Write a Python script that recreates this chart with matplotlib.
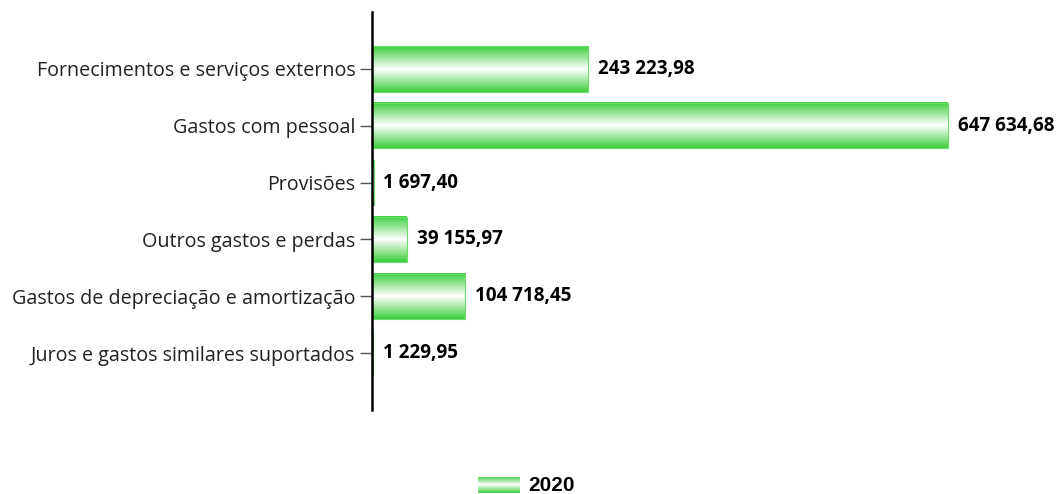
import matplotlib
matplotlib.use("Agg")
import matplotlib.pyplot as plt
import numpy as np
from matplotlib.colors import LinearSegmentedColormap

categories = ["Fornecimentos e serviços externos", "Gastos com pessoal", "Provisões",
              "Outros gastos e perdas", "Gastos de depreciação e amortização",
              "Juros e gastos similares suportados"]
values = [243223.98, 647634.68, 1697.40, 39155.97, 104718.45, 1229.95]
series_name = "2020"

def fmt(v):
    s = f"{v:,.2f}"
    return s.replace(",", " ").replace(".", ",")

plt.rcParams['font.family'] = ['Open Sans', 'DejaVu Sans']
fig = plt.figure(figsize=(10.59, 4.94), dpi=100)
ax = fig.add_axes([372/1059, 1-410/494, (1050-372)/1059, (410-12)/494])

green = "#3ccf3c"
cmap = LinearSegmentedColormap.from_list("g", [green, "#ffffff", green])
grad = np.linspace(0, 1, 256).reshape(-1, 1)

xmax = 647634.68 * (1050 - 372) / 576
h = 0.8
pos = np.arange(1, len(categories) + 1)
for y, v in zip(pos, values):
    ax.imshow(grad, cmap=cmap, aspect='auto', extent=[0, v, y + h/2, y - h/2],
              interpolation='bicubic', zorder=2)
    ax.add_patch(plt.Rectangle((0, y - h/2), v, h, fill=False, edgecolor="#6ddc6d",
                               linewidth=0.8, zorder=3))
    ax.annotate(fmt(v), (v, y), xytext=(7, 0), textcoords='offset points',
                va='center', ha='left', fontsize=13.6, fontweight='bold', color='black')

ax.set_xlim(0, xmax)
ax.set_ylim(len(categories) + 1, 0)
ax.set_yticks(pos)
ax.set_yticklabels(categories, fontsize=14.2, color='#222222')
ax.tick_params(axis='y', length=9, width=1, color='#555555', pad=3)
ax.set_xticks([])
for s in ['top', 'right', 'bottom']:
    ax.spines[s].set_visible(False)
ax.spines['left'].set_linewidth(1.8)
ax.spines['left'].set_color('black')
ax.spines['left'].set_zorder(5)

# legend
lax = fig.add_axes([478/1059, 1-493/494, 42/1059, 16/494])
lax.imshow(grad, cmap=cmap, aspect='auto', interpolation='bicubic')
lax.axis('off')
fig.text(528/1059, 1-485/494, series_name, fontsize=15, fontweight='bold', va='center', ha='left',
         family=['Liberation Sans', 'DejaVu Sans'])

fig.savefig("out.png", dpi=100)
